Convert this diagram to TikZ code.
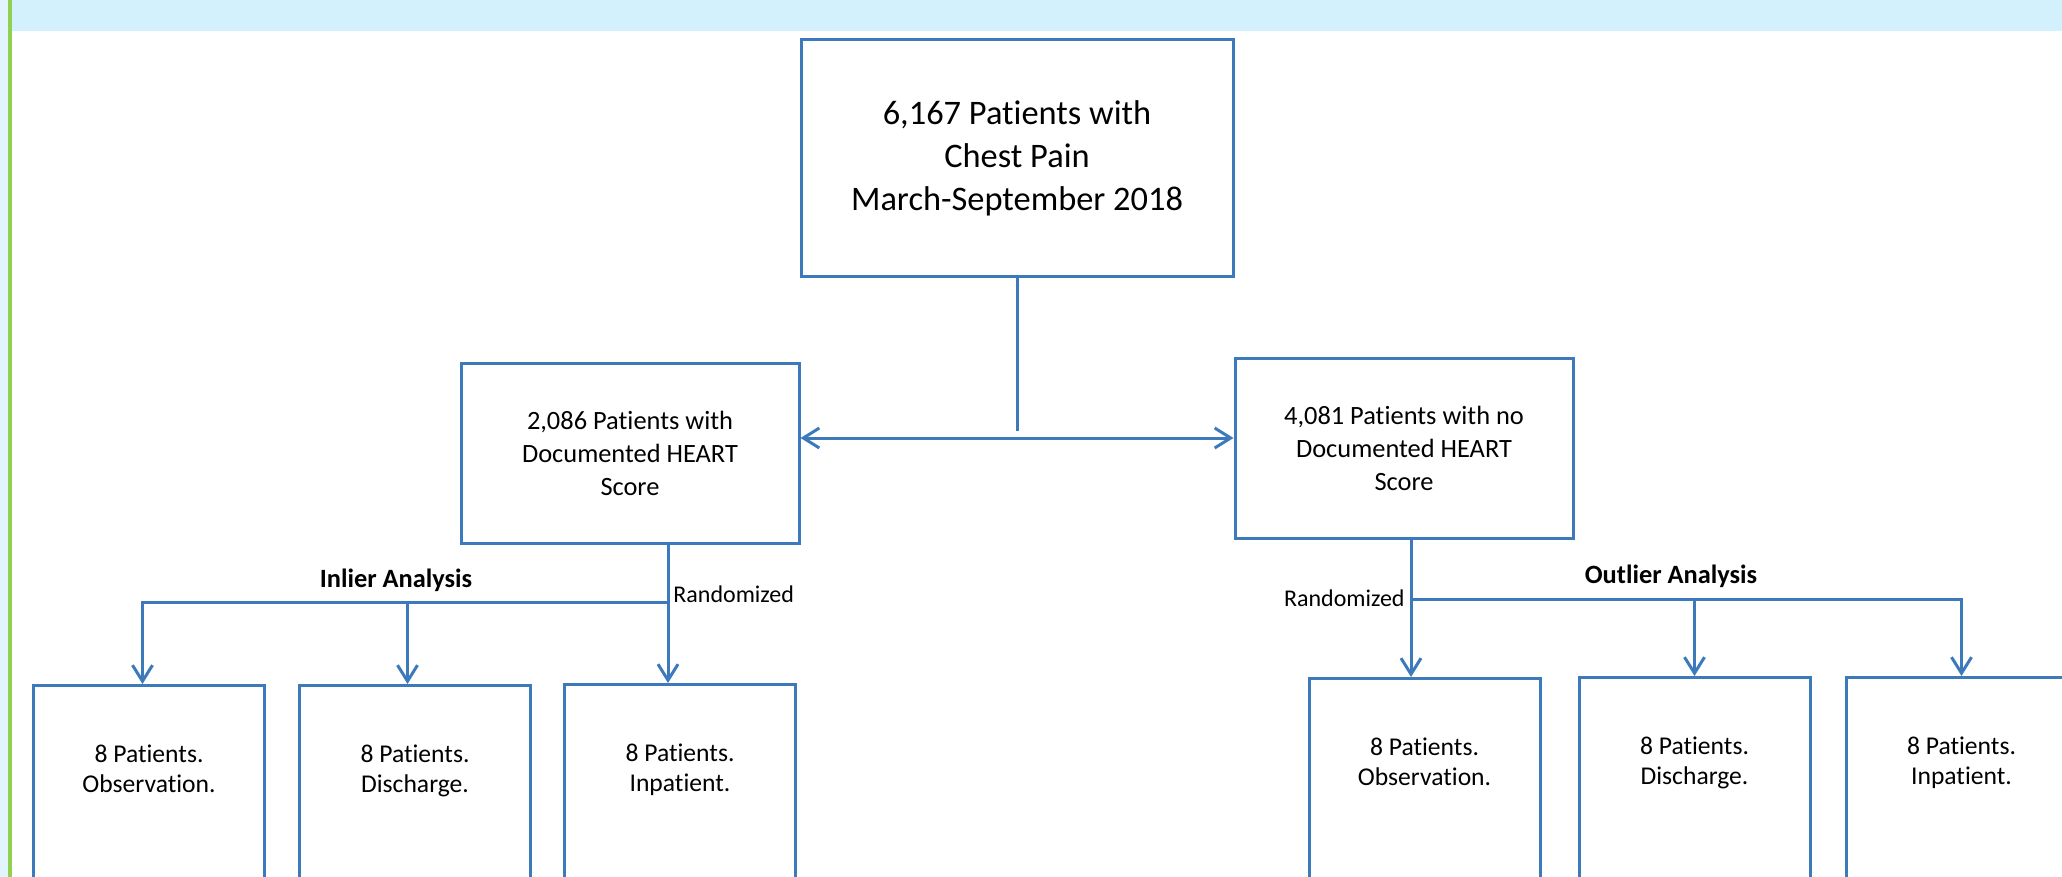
\documentclass[tikz,border=0pt]{standalone}
\usepackage{fontspec}
\setmainfont{Carlito}[Ligatures=NoCommon]
\usetikzlibrary{arrows.meta,positioning}

\definecolor{flowblue}{RGB}{60,122,188}
\definecolor{bandblue}{RGB}{211,241,252}
\definecolor{sideblue}{RGB}{226,244,252}
\definecolor{sidegreen}{RGB}{146,208,80}

\begin{document}
\begin{tikzpicture}[x=0.5pt, y=-0.5pt,
		box/.style={draw=flowblue, line width=1.5pt, align=center, inner sep=0pt},
		bigbox/.style={box, minimum width=216pt, minimum height=118.5pt, font=\fontsize{17.2}{21.5}\selectfont},
		midbox/.style={box, minimum width=169pt, minimum height=90pt, font=\fontsize{13.2}{16.5}\selectfont},
		armbox/.style={box, anchor=north, minimum width=115.5pt, minimum height=140pt, text height=20pt, text depth=53.5pt, font=\fontsize{12.8}{15}\selectfont},
		link/.style={flowblue, line width=1.5pt},
		tip/.style={link, -{Straight Barb[length=8pt, width=10pt]}},
		lbl/.style={font=\fontsize{12}{14}\selectfont, inner sep=0pt},
		head/.style={font=\bfseries\fontsize{13.2}{15}\selectfont, inner sep=0pt}]
			\useasboundingbox (0,0) rectangle (2062,877);
			\clip (0,0) rectangle (2062,877);
			\fill [sideblue] (0,0) rectangle (8,877);
			\fill [sidegreen] (8,0) rectangle (11.5,877);
			\fill [bandblue] (12,0) rectangle (2062,31);
			
			\node [bigbox] (total) at (1017,158.5) {6,167 Patients with\\Chest Pain\\March-September 2018};
			\node [midbox] (heart) at (630,453) {2,086 Patients with\\Documented HEART\\Score};
			\node [midbox] (noheart) at (1404,448.5) {4,081 Patients with no\\Documented HEART\\Score};
			
			\node [armbox] (obsL) at (149,684) {8 Patients.\\Observation.};
			\node [armbox] (disL) at (415,684) {8 Patients.\\Discharge.};
			\node [armbox] (inpL) at (680,683) {8 Patients.\\Inpatient.};
			\node [armbox] (obsR) at (1424.5,677) {8 Patients.\\Observation.};
			\node [armbox] (disR) at (1694.5,676) {8 Patients.\\Discharge.};
			\node [armbox] (inpR) at (1961.5,676) {8 Patients.\\Inpatient.};
			
			\coordinate (stemend) at (1017,431);
			\coordinate (split) at (1017,438);
			\coordinate (rndL) at (668,602);
			\coordinate (rndR) at (1411,599);
			\coordinate (colA) at (142.5,602);
			\coordinate (colB) at (407.5,602);
			
			\draw [link] (total.south) -- (stemend);
			\draw [link, {Straight Barb[length=8pt, width=10pt]}-{Straight Barb[length=8pt, width=10pt]}] (heart.east |- split) -- (noheart.west |- split);
			
			\draw [tip] (rndL |- heart.south) -- (rndL |- inpL.north);
			\draw [tip] (rndL) -| (colA |- obsL.north);
			\draw [tip] (colB) -- (colB |- disL.north);
			
			\draw [tip] (rndR |- noheart.south) -- (rndR |- obsR.north);
			\draw [tip] (rndR) -| (inpR.north);
			\draw [tip] (rndR -| disR.north) -- (disR.north);
			
			\node [lbl, anchor=base west] (randL) at ([xshift=2.5pt]rndL) {Randomized};
			\node [lbl, anchor=base east] (randR) at ([xshift=-3pt, yshift=-3.5pt]rndR) {Randomized};
			\node [head, anchor=base] (inlier) at (396,587) {Inlier Analysis};
			\node [head, anchor=base] (outlier) at (1671,583) {Outlier Analysis};
		\end{tikzpicture}
\end{document}
